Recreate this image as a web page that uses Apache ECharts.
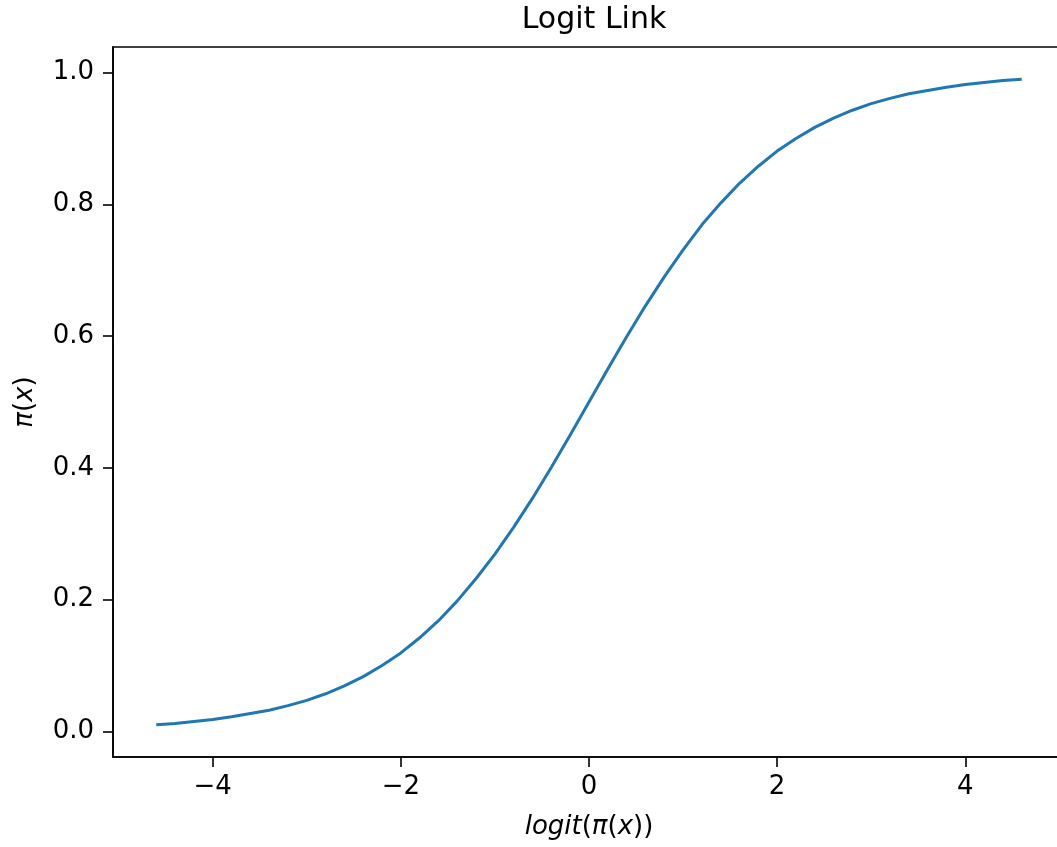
<!DOCTYPE html>
<html>
<head>
<meta charset="utf-8">
<title>Logit Link</title>
<script src="https://cdn.jsdelivr.net/npm/echarts@6/dist/echarts.min.js"></script>
<style>
  html, body { margin: 0; padding: 0; background: #fff; overflow: hidden; }
  /* the axes box runs past the right edge of the picture, so the canvas is a bit wider */
  #chart { width: 1066px; height: 847px; }
</style>
</head>
<body>
<div id="chart"></div>
<script>
// values
var logitX = [-4.6, -4.4, -4.2, -4.0, -3.8, -3.6, -3.4, -3.2, -3.0, -2.8, -2.6, -2.4,
  -2.2, -2.0, -1.8, -1.6, -1.4, -1.2, -1.0, -0.8, -0.6, -0.4, -0.2, 0.0,
  0.2, 0.4, 0.6, 0.8, 1.0, 1.2, 1.4, 1.6, 1.8, 2.0, 2.2, 2.4,
  2.6, 2.8, 3.0, 3.2, 3.4, 3.6, 3.8, 4.0, 4.2, 4.4, 4.6];
var piX = [0.010, 0.012, 0.015, 0.018, 0.022, 0.027, 0.032, 0.039, 0.047, 0.057, 0.069, 0.083,
  0.100, 0.119, 0.142, 0.168, 0.198, 0.232, 0.269, 0.310, 0.354, 0.401, 0.450, 0.500,
  0.550, 0.599, 0.646, 0.690, 0.731, 0.769, 0.802, 0.832, 0.858, 0.881, 0.900, 0.917,
  0.931, 0.943, 0.953, 0.961, 0.968, 0.973, 0.978, 0.982, 0.985, 0.988, 0.990];
var xTicks = [-4, -2, 0, 2, 4];
var yTicks = [0, 0.2, 0.4, 0.6, 0.8, 1.0];

var font = 'DejaVu Sans';
var chart = echarts.init(document.getElementById('chart'));

var points = [];
for (var i = 0; i < logitX.length; i++) {
  points.push([logitX[i], piX[i]]);
}

chart.setOption({
  animation: false,
  title: {
    text: 'Logit Link',
    left: 589,
    top: 0,
    textAlign: 'center',
    textStyle: { fontFamily: font, fontSize: 30, fontWeight: 'normal', color: '#000' }
  },
  grid: {
    left: 113,
    top: 47,
    right: 1,
    bottom: 90,
    show: true,
    borderColor: '#000',
    borderWidth: 1.6
  },
  xAxis: {
    type: 'value',
    min: -5.06,
    max: 5.06,
    name: '{i|logit}({i|π}({i|x}))',
    nameLocation: 'middle',
    nameGap: 57,
    nameTextStyle: {
      fontFamily: font, fontSize: 26, color: '#000',
      rich: { i: { fontFamily: font, fontSize: 26, fontStyle: 'italic', color: '#000' } }
    },
    splitLine: { show: false },
    axisLine: { show: true, onZero: false, lineStyle: { color: '#000', width: 1.6 } },
    axisTick: { show: true, customValues: xTicks, length: 10, lineStyle: { color: '#000', width: 1.6 } },
    axisLabel: {
      customValues: xTicks,
      margin: 17,
      fontFamily: font,
      fontSize: 26,
      color: '#000',
      formatter: function (v) { return String(v).replace('-', '\u2212'); }
    }
  },
  yAxis: {
    type: 'value',
    min: -0.039,
    max: 1.039,
    name: '{i|π}({i|x})',
    nameLocation: 'middle',
    nameGap: 75,
    nameTextStyle: {
      fontFamily: font, fontSize: 26, color: '#000',
      rich: { i: { fontFamily: font, fontSize: 26, fontStyle: 'italic', color: '#000' } }
    },
    splitLine: { show: false },
    axisLine: { show: true, onZero: false, lineStyle: { color: '#000', width: 1.6 } },
    axisTick: { show: true, customValues: yTicks, length: 10, lineStyle: { color: '#000', width: 1.6 } },
    axisLabel: {
      customValues: yTicks,
      margin: 19,
      fontFamily: font,
      fontSize: 26,
      color: '#000',
      formatter: function (v) { return v.toFixed(1); }
    }
  },
  series: [{
    type: 'line',
    data: points,
    showSymbol: false,
    lineStyle: { color: '#1f77b4', width: 3 }
  }]
});
</script>
</body>
</html>
